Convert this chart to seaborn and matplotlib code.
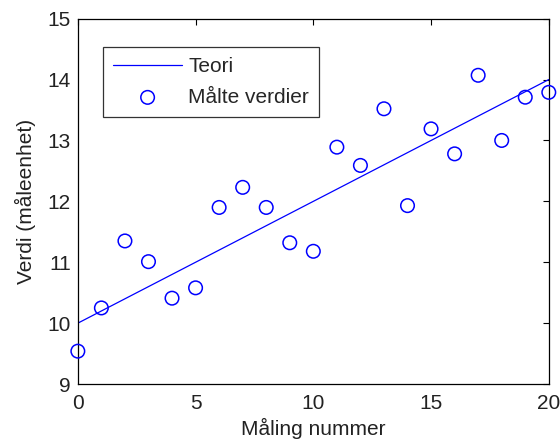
import numpy as np
import pandas as pd
import matplotlib
matplotlib.use("Agg")
import matplotlib.pyplot as plt
import seaborn as sns

maling = list(range(21))
malte = [9.54, 10.25, 11.35, 11.01, 10.41, 10.58, 11.90, 12.23, 11.90, 11.32,
         11.18, 12.89, 12.59, 13.52, 11.93, 13.19, 12.78, 14.07, 13.00, 13.71, 13.79]
# theory line end points
teori_x = [0, 20]
teori_y = [10, 14]

sns.set_style("white")
plt.rcParams['font.family'] = ['Liberation Sans', 'DejaVu Sans']

df = pd.DataFrame({'x': maling, 'y': malte})
teori = pd.DataFrame({'x': teori_x, 'y': teori_y})

fig = plt.figure(figsize=(5.6, 4.44), dpi=100)
ax = fig.add_axes([0.139, 0.135, 0.841, 0.823])

sns.lineplot(data=teori, x='x', y='y', ax=ax, color='blue', lw=0.9, label='Teori')
sns.scatterplot(data=df, x='x', y='y', ax=ax, marker='o', s=95,
                facecolors='none', edgecolor='blue', linewidth=1.1,
                label='Målte verdier', clip_on=False, zorder=3)

fs = 15
ax.set_xlim(0, 20)
ax.set_ylim(9, 15)
ax.set_xticks([0, 5, 10, 15, 20])
ax.set_yticks([9, 10, 11, 12, 13, 14, 15])
ax.tick_params(direction='in', length=4, width=0.8, top=True, right=True,
               labelsize=fs, colors='black', labelcolor='#222222')
ax.tick_params(axis='x', pad=7)
ax.tick_params(axis='y', pad=5)
for s in ax.spines.values():
    s.set_visible(True)
    s.set_color('black')
    s.set_linewidth(0.9)
ax.set_xlabel('Måling nummer', fontsize=fs, color='#222222', labelpad=4)
ax.set_ylabel('Verdi (måleenhet)', fontsize=fs, color='#222222', labelpad=8)

leg = ax.legend(loc='upper left', bbox_to_anchor=(0.053, 0.9225), fontsize=fs,
                frameon=True, fancybox=False, edgecolor='black',
                borderaxespad=0, handlelength=3.3, borderpad=0.5,
                labelspacing=0.55, handletextpad=0.3)
leg.get_frame().set_linewidth(0.9)

fig.savefig('out.png', dpi=100)
